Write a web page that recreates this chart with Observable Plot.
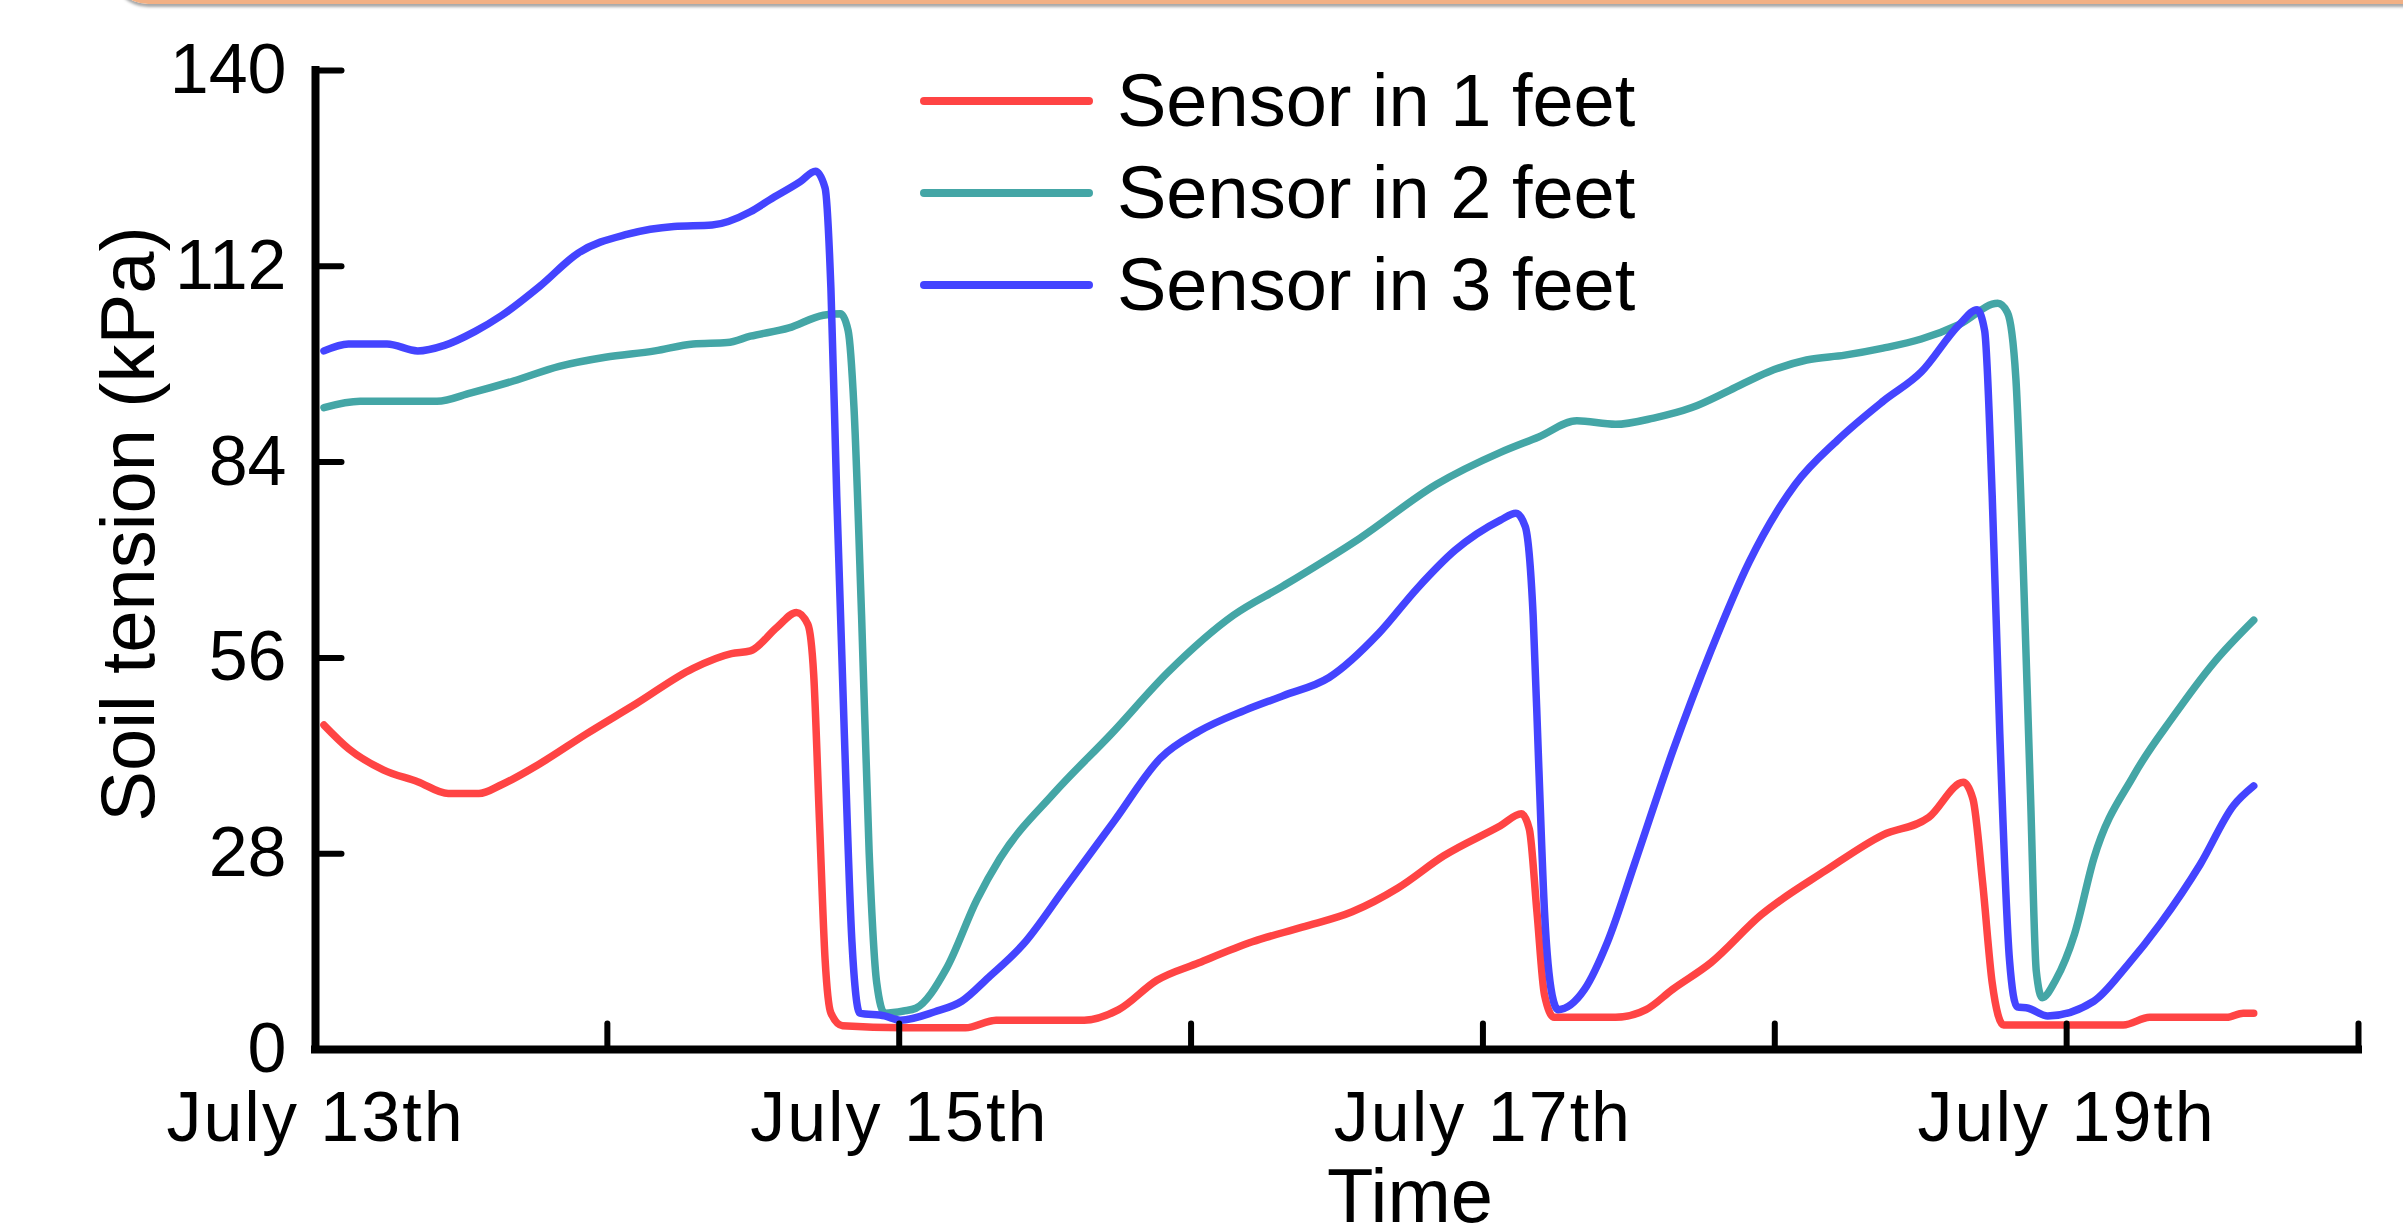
<!DOCTYPE html>
<html>
<head>
<meta charset="utf-8">
<script src="https://cdn.jsdelivr.net/npm/d3@7"></script>
<script src="https://cdn.jsdelivr.net/npm/@observablehq/plot@0.6"></script>
<style>
html, body { margin: 0; padding: 0; background: #fff; overflow: hidden; }
#wrap { position: relative; width: 2403px; height: 1229px; font-family: "Liberation Sans", Arial, sans-serif; }
#frame { position: absolute; left: 112px; top: -60px; width: 2400px; height: 60px;
  border-left: 4px solid #F2B084; border-bottom: 4px solid #F2B084; border-bottom-left-radius: 36px;
  box-shadow: 0 3px 3px rgba(0,0,0,0.35); }
#legend { position: absolute; left: 920px; top: 55px; }
.row { display: flex; align-items: center; height: 92px; }
.sw { width: 173px; height: 8px; border-radius: 4px; margin-right: 24px; }
.lb { font-size: 74px; color: #000; line-height: 1; white-space: nowrap; }
g[aria-label="x-axis tick label"] text { letter-spacing: 2px; }
</style>
</head>
<body>
<div id="wrap"><div id="frame"></div><div id="legend"></div></div>
<script>
// ---- data (days since July 13th 00:00, soil tension in kPa) ----
const seriesNames = ["Sensor in 1 feet", "Sensor in 2 feet", "Sensor in 3 feet"];
const seriesColors = ["#FF4444", "#44A6A6", "#4444FF"];

const sensor1Day = [0.029,0.114,0.232,0.35,0.455,0.56,0.639,0.77,0.927,1.097,1.294,1.425,1.49,1.582,1.648,1.687,1.707,1.727,1.746,1.766,1.806,2.015,2.227,2.332,2.634,2.752,2.883,3.027,3.21,3.381,3.552,3.709,3.866,4.06,4.132,4.159,4.185,4.211,4.244,4.454,4.559,4.65,4.781,4.952,5.175,5.371,5.528,5.646,5.679,5.712,5.745,5.784,6.194,6.285,6.548,6.605,6.641];
const sensor1Value = [46.4,43.0,40.0,38.3,36.6,36.6,37.9,40.9,45.1,49.4,54.5,56.6,57.0,60.4,62.5,60.8,53.6,32.4,12.9,5.2,3.4,3.1,3.1,4.2,4.2,5.7,9.9,12.4,15.4,17.5,19.7,23.1,27.7,32.0,33.7,31.5,19.7,7.8,4.6,4.6,5.7,8.6,12.4,19.2,25.6,30.7,33.2,38.2,35.8,23.9,9.5,3.5,3.5,4.6,4.6,5.2,5.2];

const sensor2Day = [0.029,0.153,0.416,0.533,0.678,0.835,0.993,1.163,1.294,1.411,1.49,1.622,1.74,1.799,1.825,1.845,1.871,1.897,1.923,1.95,2.015,2.057,2.162,2.266,2.345,2.529,2.726,2.922,3.145,3.316,3.578,3.84,4.06,4.191,4.322,4.454,4.585,4.716,4.847,4.978,5.109,5.24,5.371,5.502,5.633,5.764,5.797,5.826,5.85,5.876,5.896,5.916,5.962,6.027,6.093,6.23,6.367,6.504,6.641];
const sensor2Value = [91.8,92.7,92.7,93.9,95.6,97.7,99.0,99.9,100.9,101.1,102.0,103.2,105.0,105.2,102.8,91.8,62.1,28.2,9.5,5.2,5.5,5.9,11.6,21.4,27.3,36.6,45.1,54.0,62.1,66.3,73.1,80.8,85.4,87.6,89.9,89.4,90.3,91.8,94.3,96.9,98.6,99.3,100.3,101.6,103.7,106.7,105.4,96.0,70.6,36.6,11.2,7.4,9.9,16.5,27.3,39.2,47.7,55.3,61.4];

const sensor3Day = [0.029,0.113,0.245,0.35,0.442,0.547,0.639,0.77,0.9,1.07,1.228,1.359,1.49,1.556,1.661,1.713,1.746,1.766,1.786,1.812,1.838,1.865,1.95,2.004,2.122,2.214,2.306,2.424,2.568,2.739,2.896,3.027,3.184,3.316,3.473,3.643,3.774,3.905,4.06,4.113,4.145,4.172,4.191,4.211,4.237,4.257,4.348,4.427,4.519,4.65,4.781,4.912,5.07,5.214,5.371,5.502,5.633,5.693,5.719,5.745,5.771,5.804,5.83,5.869,5.935,6.093,6.207,6.321,6.458,6.572,6.641];
const sensor3Value = [99.9,100.9,100.9,99.9,100.7,102.7,105.0,109.2,113.9,116.6,117.7,117.9,119.8,121.5,124.1,125.6,123.2,108.8,79.1,45.1,15.4,5.2,4.8,4.2,5.4,6.9,10.3,15.0,23.1,32.8,41.7,45.5,48.5,50.6,53.2,59.5,65.9,71.4,75.7,76.7,74.8,62.1,40.9,19.7,7.8,5.7,8.6,15.4,26.5,42.6,57.0,69.7,80.8,87.1,92.7,96.9,103.7,105.8,102.8,79.1,45.1,12.9,6.1,5.9,4.8,6.9,12.0,18.0,26.5,34.9,37.7];

const yTicks = [0, 28, 56, 84, 112, 140];
const xTicks = [1, 2, 3, 4, 5, 6, 7];
const xLabelDays = [0, 2, 4, 6];
const xLabels = ["July 13th", "July 15th", "July 17th", "July 19th"];
const yTitle = "Soil tension (kPa)";
const xTitle = "Time";

// ---- build table ----
const dayArrays = [sensor1Day, sensor2Day, sensor3Day];
const valueArrays = [sensor1Value, sensor2Value, sensor3Value];
const rows = [];
seriesNames.forEach((name, s) => {
  dayArrays[s].forEach((d, i) => rows.push({series: name, day: d, value: valueArrays[s][i]}));
});
const labelByDay = new Map(xLabelDays.map((d, i) => [d, xLabels[i]]));
const tickShape = {draw(context, l) { context.moveTo(0, 0); context.lineTo(0, -l); }};

const chart = Plot.plot({
  width: 2403,
  height: 1229,
  marginLeft: 315,
  marginRight: 45,
  marginTop: 70,
  marginBottom: 180,
  style: {fontFamily: "Liberation Sans, Arial, sans-serif", fontSize: "70px", background: "white", color: "black", overflow: "visible"},
  x: {domain: [0, 7]},
  y: {domain: [0, 140]},
  color: {domain: seriesNames, range: seriesColors},
  marks: [
    Plot.line(rows, {x: "day", y: "value", z: "series", stroke: "series", strokeWidth: 7.5,
      curve: "monotone-x", strokeLinejoin: "round", strokeLinecap: "round"}),
    Plot.ruleX([0], {strokeWidth: 8, strokeLinecap: "square"}),
    Plot.ruleY([0], {strokeWidth: 8, strokeLinecap: "square"}),
    Plot.vector(yTicks, {x: 0, y: d => d, length: 26, rotate: 90, anchor: "start", shape: tickShape, strokeWidth: 6, strokeLinecap: "round"}),
    Plot.vector(xTicks, {x: d => d, y: 0, length: 26, rotate: 0, anchor: "start", shape: tickShape, strokeWidth: 6, strokeLinecap: "round"}),
    Plot.axisY(yTicks, {tickSize: 0, tickPadding: 29, fontSize: 70, label: null, tickFormat: d => String(d)}),
    Plot.axisX(xLabelDays, {tickSize: 0, tickPadding: 42, fontSize: 70, label: null, tickFormat: d => labelByDay.get(d)}),
    Plot.text([yTitle], {text: d => d, frameAnchor: "left", textAnchor: "middle", lineAnchor: "middle", rotate: -90, dx: -186, dy: -36, fontSize: 76}),
    Plot.text([xTitle], {text: d => d, frameAnchor: "bottom", textAnchor: "middle", lineAnchor: "middle", dx: 73, dy: 148, fontSize: 76})
  ]
});
document.getElementById("wrap").prepend(chart);
chart.style.position = "absolute";
chart.style.left = "0px";
chart.style.top = "0px";
document.getElementById("frame").style.zIndex = 2;

const legend = document.getElementById("legend");
seriesNames.forEach((name, i) => {
  const row = document.createElement("div");
  row.className = "row";
  const sw = document.createElement("div");
  sw.className = "sw";
  sw.style.background = seriesColors[i];
  const lb = document.createElement("div");
  lb.className = "lb";
  lb.textContent = name;
  row.append(sw, lb);
  legend.append(row);
});
</script>
</body>
</html>
